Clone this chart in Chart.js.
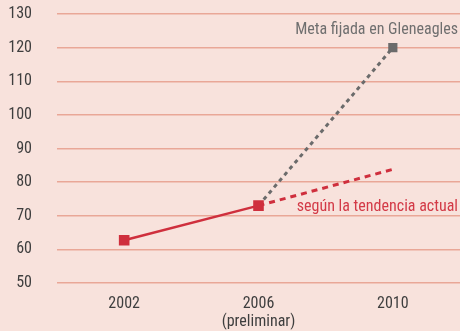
<!DOCTYPE html>
<html>
<head>
<meta charset="utf-8">
<script src="https://cdn.jsdelivr.net/npm/chart.js@4/dist/chart.umd.min.js"></script>
<style>
  html, body { margin: 0; padding: 0; background: #f8e2dc; }
  #wrap { width: 460px; height: 331px; }
</style>
</head>
<body>
<div id="wrap"><canvas id="myChart"></canvas></div>
<script>
const years = [["2002"], ["2006", "(preliminar)"], ["2010"]];
const actualValues = [62.7, 73, null];
const goalValues = [null, 73, 120];
const trendValues = [null, 73, 83.8];
const yTicks = [50, 60, 70, 80, 90, 100, 110, 120, 130];

const goalLabel = "Meta fijada en Gleneagles";
const trendLabel = "según la tendencia actual";

const fontFamily = "'Roboto Condensed', 'Liberation Sans', sans-serif";
const red = "#cf2f3d";
const grey = "#6b6b6b";

// writes the two notes next to the 2010 goal and the 2006 point
const notesPlugin = {
  id: "notes",
  afterDatasetsDraw: (chart) => {
    const ctx = chart.ctx;
    const area = chart.chartArea;
    const y = chart.scales.y;
    ctx.save();
    ctx.font = `16px ${fontFamily}`;
    ctx.textBaseline = "middle";
    ctx.textAlign = "right";

    ctx.fillStyle = "#6f6f6f";
    ctx.fillText(goalLabel, area.right - 2, y.getPixelForValue(goalValues[2]) - 18);

    ctx.fillStyle = "#d33a47";
    ctx.fillText(trendLabel, area.right - 2, y.getPixelForValue(trendValues[1]) + 1);
    ctx.restore();
  },
};

const data = {
  labels: years,
  datasets: [
    {
      data: actualValues,
      borderColor: red,
      backgroundColor: red,
      borderWidth: 2.5,
      pointStyle: "rect",
      pointRadius: 7.5,
      pointBorderWidth: 0,
    },
    {
      data: trendValues,
      borderColor: red,
      borderWidth: 3,
      borderDash: [6, 5],
      pointRadius: 0,
    },
    {
      data: goalValues,
      borderColor: grey,
      backgroundColor: grey,
      borderWidth: 3,
      borderDash: [4, 4],
      pointStyle: "rect",
      pointRadius: [0, 0, 6.5],
      pointBorderWidth: 0,
    },
  ],
};

const config = {
  type: "line",
  data: data,
  options: {
    responsive: true,
    maintainAspectRatio: false,
    animation: false,
    layout: { autoPadding: false, padding: { top: 14, right: 0, bottom: 0, left: 0 } },
    plugins: {
      legend: { display: false },
      tooltip: { enabled: false },
    },
    scales: {
      x: {
        offset: true,
        grid: { display: false, drawTicks: false },
        border: { display: false },
        afterFit: (axis) => {
          axis.height = 48;
          axis.paddingLeft = 0;
          axis.paddingRight = 0;
        },
        ticks: {
          color: "#3e3e3e",
          padding: 12,
          font: { family: fontFamily, size: 16, lineHeight: 1.125 },
          maxRotation: 0,
        },
      },
      y: {
        min: 50,
        max: 130,
        afterBuildTicks: (axis) => {
          axis.ticks = yTicks.map((v) => ({ value: v }));
        },
        // the tick padding would otherwise push the plot down from the top
        afterFit: (axis) => {
          axis.width = 57;
          axis.paddingTop = 0;
          axis.paddingBottom = 0;
        },
        grid: { color: "#e9a797", lineWidth: 1.5, drawTicks: false },
        border: { display: false },
        ticks: {
          color: "#3e3e3e",
          padding: 25,
          font: { family: fontFamily, size: 16 },
        },
      },
    },
  },
  plugins: [notesPlugin],
};

const myChart = new Chart(document.getElementById("myChart"), config);
</script>
</body>
</html>
